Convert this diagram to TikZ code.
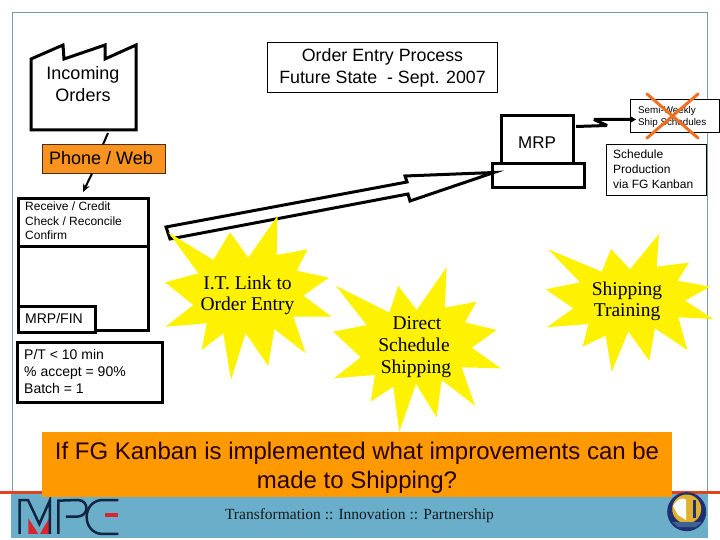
\documentclass[tikz,border=0pt]{standalone}
\usepackage{fontspec}
\setmainfont{Liberation Sans}
\newfontfamily\serifface{Liberation Serif}
\usetikzlibrary{arrows.meta}
\definecolor{framec}{HTML}{7F99A5}
\definecolor{bandc}{HTML}{6BAEC9}
\definecolor{redl}{HTML}{DD4422}
\definecolor{orangec}{HTML}{FF9900}
\definecolor{phonec}{HTML}{F7931E}
\definecolor{crossc}{HTML}{EE7020}
\definecolor{logoc}{HTML}{10253F}
\definecolor{logor}{HTML}{D9262E}
\definecolor{sealb}{HTML}{1F2F70}
\definecolor{sealy}{HTML}{E0B030}
\tikzset{
  lbl/.style={inner sep=0pt,align=center},
  thinbox/.style={draw=black,line width=1pt,fill=white,outer sep=0pt},
  thickbox/.style={draw=black,line width=3pt,fill=white,outer sep=0pt},
  heavy/.style={draw=black,line width=3pt},
  starc/.style={inner sep=0pt,align=center,text=black},
}
\begin{document}
\begin{tikzpicture}[x=1pt,y=-1pt]
\useasboundingbox (0,0) rectangle (720,540);
\fill[white] (0,0) rectangle (720,540);
% frame
\draw[framec,line width=1pt] (12.5,492) -- (12.5,12.5) -- (707.5,12.5) -- (707.5,492);
% footer
\fill[bandc] (11,494) rectangle (708,538);
\fill[redl] (0,491) rectangle (720,494);
% logo MPC
\begin{scope}[shift={(0pt,-480pt)},x=0.3333pt,y=-0.3333pt]
  \fill[logor] (85,115) -- (85,162) -- (115,162) -- cycle;
  \fill[logor] (149,112) -- (149,162) -- (120,162) -- cycle;
  \fill[logor] (314,100) -- (355,100) -- (355,112) -- (314,112) -- cycle;
  \draw[logoc,line width=2.5pt] (59,162) -- (59,60) -- (84,60) -- (118,132) -- (150,60) -- (150,162);
  \draw[logoc,line width=2.5pt] (175,162) -- (175,62) -- (235,60) .. controls (268,62) and (268,108) .. (232,110) -- (198,110);
  \draw[logoc,line width=2.5pt] (355,60) -- (305,60) .. controls (245,65) and (245,157) .. (305,162) -- (355,162);
\end{scope}
% seal
\fill[sealb] (686.7,511.7) circle (19.5);
\fill[sealy] (686.7,509) circle (14.5);
\fill[white] (673,506) .. controls (678,498) and (684,497) .. (686,500) -- (686,520) -- (678,515) -- cycle;
\fill[sealb] (693,500) rectangle (696,518);
\fill[bandc!40!sealb] (672,522) -- (702,522) -- (696,527) -- (678,527) -- cycle;
% MRP
\node[thickbox,anchor=north west,inner sep=0pt,minimum width=72pt,minimum height=48pt] (mrp) at (501,116) {};
\node[thickbox,anchor=north west,inner sep=0pt,minimum width=92pt,minimum height=24pt] (mrpb) at (492,164) {};
\node[inner sep=0pt,font=\fontsize{17}{20}\selectfont] (mrpt) at (537,143) {MRP};
% big white lightning arrow
\draw[heavy,fill=white,line join=miter] (166,227) -- (407,182) -- (405,176) -- (494,172.5) -- (410,201) -- (408,194) -- (170,239) -- cycle;
% stars
\begin{scope}[shift={(155pt,-205pt)},x=0.3333pt,y=-0.3333pt]
  \fill[yellow] (40,82) -- (175,165) -- (225,82) -- (280,158) -- (368,32) -- (365,150) -- (458,133) -- (425,197) -- (522,218) -- (445,272) -- (530,335) -- (415,335) -- (452,445) -- (358,372) -- (340,483) -- (272,385) -- (228,525) -- (205,385) -- (140,435) -- (155,355) -- (32,365) -- (115,300) -- (30,232) -- (130,205) -- cycle;
\end{scope}
\begin{scope}[shift={(330pt,-260pt)},x=0.3333pt,y=-0.3333pt]
  \fill[yellow] (18,78) -- (178,158) -- (205,78) -- (260,150) -- (350,22) -- (345,143) -- (440,125) -- (405,187) -- (500,210) -- (425,263) -- (513,325) -- (395,322) -- (435,437) -- (335,360) -- (320,472) -- (258,372) -- (208,515) -- (190,380) -- (122,425) -- (135,345) -- (12,355) -- (92,292) -- (10,215) -- (110,195) -- cycle;
\end{scope}
\begin{scope}[shift={(535pt,-220pt)},x=0.3333pt,y=-0.3333pt]
  \fill[yellow] (40,88) -- (200,155) -- (228,87) -- (285,148) -- (372,42) -- (365,140) -- (462,128) -- (428,182) -- (525,200) -- (450,242) -- (535,297) -- (430,292) -- (457,390) -- (360,325) -- (343,422) -- (280,335) -- (230,455) -- (212,347) -- (143,380) -- (160,312) -- (35,322) -- (115,265) -- (32,208) -- (135,187) -- cycle;
\end{scope}
\node[starc,font=\serifface\fontsize{19.5}{21}\selectfont] (it) at (247.5,295.5) {I.T. Link to\\Order Entry};
\node[starc,font=\serifface\fontsize{19.5}{22}\selectfont] (ds) at (414,347) {\hspace*{6pt}Direct\\Schedule\\\hspace*{4pt}Shipping};
\node[starc,font=\serifface\fontsize{19.5}{21}\selectfont] (st) at (627,301.5) {Shipping\\Training};
% factory
\draw[heavy,fill=white,line join=miter] (31,59) -- (63,45) -- (64,59) -- (105,45) -- (105,59) -- (136,45) -- (136,130) -- (31,130) -- cycle;
\node[lbl,font=\fontsize{18}{22}\selectfont] (orders) at (83,84.5) {Incoming\\Orders};
\coordinate (fa) at (108,133);
\coordinate (rb) at (83,192);
% title
\node[thinbox,lbl,minimum width=230pt,minimum height=50.5pt,font=\fontsize{17.8}{22}\selectfont] (title) at (382.5,67.7) {\raisebox{-1pt}{Order Entry Process}\\\raisebox{-1pt}{Future State\ \ - Sept. 2007}};
% phone/web
\node[draw=black!70!phonec,line width=.7pt,fill=phonec,anchor=north west,inner sep=0pt,outer sep=0pt,minimum width=123pt,minimum height=29pt] (phone) at (42.5,144.5) {};
\node[anchor=west,inner sep=0pt,font=\fontsize{18}{20}\selectfont] (phonet) at (49,158.5) {Phone / Web};
\draw[line width=2pt] (fa) -- ([xshift=-1pt]phone.north);
\draw[line width=2pt,-{Stealth[length=8pt,width=7pt]}] ([xshift=-12pt]phone.south) -- (rb);
% process box
\node[thickbox,anchor=north west,inner sep=0pt,minimum width=129.5pt,minimum height=47pt] (recv) at (18.5,199) {};
\node[anchor=west,inner sep=0pt,align=left,font=\fontsize{12}{14.6}\selectfont] (recvt) at (25,221) {Receive / Credit\\Check / Reconcile\\Confirm};
\node[thickbox,anchor=north west,inner sep=0pt,minimum width=129.5pt,minimum height=84pt] (low) at (18.5,246) {};
\node[thickbox,anchor=north west,inner sep=0pt,minimum width=76.5pt,minimum height=26pt] (fin) at (18.5,306) {};
\node[anchor=west,inner sep=0pt,font=\fontsize{14}{15}\selectfont] (fint) at (25,318) {MRP/FIN};
\node[thickbox,anchor=north west,inner sep=0pt,minimum width=145pt,minimum height=60pt] (pt) at (17,342) {};
\node[anchor=west,inner sep=0pt,align=left,font=\fontsize{14}{17}\selectfont] (ptt) at (24,371) {P/T < 10 min\\\% accept = 90\%\\Batch = 1};
% semi weekly
\node[thinbox,line width=.8pt,anchor=north west,inner sep=0pt,minimum width=89pt,minimum height=33pt] (semi) at (630,99.5) {};
\node[anchor=west,inner sep=0pt,align=left,font=\fontsize{9.8}{11.5}\selectfont] (semit) at (638,117) {Semi-Weekly\\Ship Schedules};
\node[thinbox,line width=.8pt,anchor=north west,inner sep=0pt,minimum width=100pt,minimum height=51pt] (sched) at (606,144) {};
\node[anchor=west,inner sep=0pt,align=left,font=\fontsize{12}{15}\selectfont] (schedt) at (613,169.5) {Schedule\\Production\\via FG Kanban};
\coordinate (ma) at (576,126.5);
\coordinate (sa) at (636,119.5);
\draw[line width=3pt,line join=bevel,-{Stealth[length=6pt,width=7pt]}] (ma) -- (607,125.5) -- (594,119.5) -- (sa);
\draw[crossc,line width=3pt,line cap=round] (647,94) -- (698,138) (698,94) -- (647,138);
% question
\fill[orangec] (42,432) rectangle (672,497);
\node[lbl,font=\fontsize{24}{29}\selectfont,text=black!85!red] (q) at (357,467.5) {If FG Kanban is implemented what improvements can be\\made to Shipping?};
\node[inner sep=0pt,font=\serifface\fontsize{15.5}{17}\selectfont,text=black!85!bandc] (foot) at (359.5,515.5) {Transformation :: Innovation :: Partnership};
\end{tikzpicture}
\end{document}
